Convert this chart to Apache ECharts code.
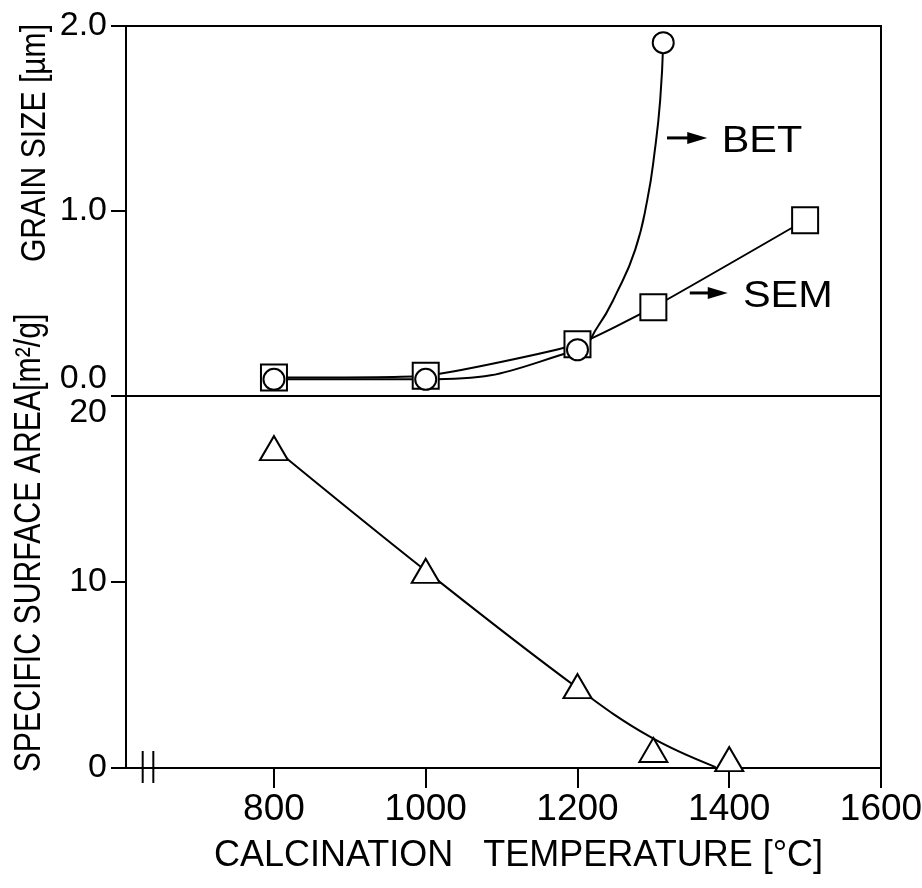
<!DOCTYPE html>
<html>
<head>
<meta charset="utf-8">
<script src="https://cdn.jsdelivr.net/npm/echarts@6/dist/echarts.min.js"></script>
<style>
  html, body { margin: 0; padding: 0; background: #fff; }
  #chart { width: 922px; height: 888px; }
</style>
</head>
<body>
<div id="chart"></div>
<script>
// ---------- data ----------
const xTickLabels = [800, 1000, 1200, 1400, 1600];
const grainTicks = [0.0, 1.0, 2.0];
const surfaceTicks = [0, 10, 20];

// SEM grain size (squares)
const semTemp = [800, 1000, 1200, 1300, 1500];
const semSize = [0.10, 0.11, 0.28, 0.48, 0.95];

// BET grain size (circles)
const betTemp = [800, 1000, 1200, 1313];
const betSize = [0.09, 0.09, 0.25, 1.91];

// BET fitted curve
const betCurveTemp = [800, 1000, 1200, 1226, 1252, 1276, 1292, 1302, 1309, 1313];
const betCurveSize = [0.09, 0.09, 0.25, 0.37, 0.56, 0.79, 1.06, 1.33, 1.60, 1.91];

// specific surface area (triangles)
const ssaTemp = [800, 1000, 1200, 1300, 1400];
const ssaArea = [17.2, 10.6, 4.4, 0.97, 0.48];

// surface-area fitted curve
const ssaCurveTemp = [800, 1000, 1200, 1296, 1382];
const ssaCurveArea = [17.2, 10.6, 4.3, 1.67, 0.05];

// annotation anchors (data coordinates of the top panel)
const annotations = [
  { text: 'BET', arrowFrom: [1318, 1.395], arrowTo: [1371, 1.395], textAt: [1390, 1.37] },
  { text: 'SEM', arrowFrom: [1348, 0.557], arrowTo: [1398, 0.557], textAt: [1418, 0.535] }
];
const axisBreak = [627, 641];

// ---------- chart ----------
const zip = (a, b) => a.map((v, i) => [v, b[i]]);
const FONT = "'Liberation Sans', Arial, Helvetica, sans-serif";
const BLACK = '#000';

const chart = echarts.init(document.getElementById('chart'), null, { renderer: 'canvas' });

const yLabel = {
  color: BLACK, fontFamily: FONT, fontSize: 34, margin: 19
};

const gridBase = { left: 126, right: 41, show: true, borderColor: BLACK, borderWidth: 2,
  backgroundColor: 'transparent', containLabel: false, outerBoundsMode: 'none' };

const option = {
  animation: false,
  backgroundColor: '#fff',
  grid: [
    Object.assign({}, gridBase, { top: 26, height: 370 }),
    Object.assign({}, gridBase, { top: 396, height: 372 })
  ],
  xAxis: [
    { gridIndex: 0, type: 'value', min: 605, max: 1600,
      axisLine: { show: false }, axisTick: { show: false }, axisLabel: { show: false }, splitLine: { show: false } },
    { gridIndex: 1, type: 'value', min: 605, max: 1600,
      axisLine: { show: true, lineStyle: { color: BLACK, width: 2 } },
      axisTick: { show: true, length: 20, customValues: xTickLabels, lineStyle: { color: BLACK, width: 2 } },
      axisLabel: { show: true, customValues: xTickLabels, formatter: v => String(v),
        color: BLACK, fontFamily: FONT, fontSize: 37, margin: 23 },
      splitLine: { show: false },
      name: 'CALCINATION   TEMPERATURE [°C]',
      nameLocation: 'middle', nameGap: 70,
      nameTextStyle: { color: BLACK, fontFamily: FONT, fontSize: 36, padding: [0, 0, 0, 30] }
    }
  ],
  yAxis: [
    { gridIndex: 0, type: 'value', min: 0, max: 2,
      axisLine: { show: true, lineStyle: { color: BLACK, width: 2 } },
      axisTick: { show: true, length: 15, customValues: grainTicks, lineStyle: { color: BLACK, width: 2 } },
      axisLabel: Object.assign({}, yLabel, { customValues: grainTicks, formatter: v => Number(v).toFixed(1), verticalAlignMinLabel: 'bottom' }),
      splitLine: { show: false } },
    { gridIndex: 1, type: 'value', min: 0, max: 20,
      axisLine: { show: true, lineStyle: { color: BLACK, width: 2 } },
      axisTick: { show: true, length: 15, customValues: surfaceTicks, lineStyle: { color: BLACK, width: 2 } },
      axisLabel: Object.assign({}, yLabel, { customValues: surfaceTicks, formatter: v => String(v), verticalAlignMaxLabel: 'top' }),
      splitLine: { show: false } }
  ],
  series: [
    { name: 'SEM line', type: 'line', xAxisIndex: 0, yAxisIndex: 0, data: zip(semTemp, semSize),
      showSymbol: false, smooth: 0.15, z: 2,
      lineStyle: { color: BLACK, width: 2 } },
    { name: 'BET line', type: 'line', xAxisIndex: 0, yAxisIndex: 0, data: zip(betCurveTemp, betCurveSize),
      showSymbol: false, smooth: 0.5, z: 2,
      lineStyle: { color: BLACK, width: 2 } },
    { name: 'Surface area line', type: 'line', xAxisIndex: 1, yAxisIndex: 1, data: zip(ssaCurveTemp, ssaCurveArea),
      showSymbol: false, smooth: 0.4, z: 2,
      lineStyle: { color: BLACK, width: 2 } },
    { name: 'SEM', type: 'scatter', xAxisIndex: 0, yAxisIndex: 0, data: zip(semTemp, semSize),
      symbol: 'rect', symbolSize: 26, z: 3,
      itemStyle: { color: '#fff', borderColor: BLACK, borderWidth: 2, opacity: 1 } },
    { name: 'BET', type: 'scatter', xAxisIndex: 0, yAxisIndex: 0, data: zip(betTemp, betSize),
      symbol: 'circle', symbolSize: 21, z: 4,
      itemStyle: { color: '#fff', borderColor: BLACK, borderWidth: 2, opacity: 1 } },
    { name: 'Specific surface area', type: 'scatter', xAxisIndex: 1, yAxisIndex: 1, data: zip(ssaTemp, ssaArea),
      symbol: 'triangle', symbolSize: [28, 24], z: 3,
      itemStyle: { color: '#fff', borderColor: BLACK, borderWidth: 2, opacity: 1 } }
  ]
};

chart.setOption(option);

// ---------- decorations anchored to data coordinates ----------
function px(gridIndex, p) { return chart.convertToPixel({ gridIndex: gridIndex }, p); }

const graphics = [];

// axis break marks
axisBreak.forEach(v => {
  const p = px(1, [v, 0]);
  graphics.push({ type: 'line', z: 10, shape: { x1: p[0], y1: p[1] - 17, x2: p[0], y2: p[1] + 15 },
    style: { stroke: BLACK, lineWidth: 2 } });
});

// arrows and BET / SEM labels
annotations.forEach(a => {
  const p1 = px(0, a.arrowFrom), p2 = px(0, a.arrowTo), pt = px(0, a.textAt);
  const head = 20, half = 6;
  graphics.push({ type: 'line', z: 10, shape: { x1: p1[0], y1: p1[1], x2: p2[0] - head + 2, y2: p2[1] },
    style: { stroke: BLACK, lineWidth: 3 } });
  graphics.push({ type: 'polygon', z: 10, shape: { points: [[p2[0], p2[1]], [p2[0] - head, p2[1] - half], [p2[0] - head, p2[1] + half]] },
    style: { fill: BLACK } });
  graphics.push({ type: 'text', z: 10, x: pt[0], y: pt[1], scaleX: 1.15,
    style: { text: a.text, fill: BLACK, font: '36px ' + FONT, align: 'left', verticalAlign: 'middle' } });
});

// rotated y-axis titles
graphics.push({ type: 'text', z: 10, x: 35, y: 143, rotation: Math.PI / 2, scaleX: 0.86,
  style: { text: 'GRAIN SIZE [µm]', fill: BLACK, font: '35px ' + FONT, align: 'center', verticalAlign: 'middle' } });
graphics.push({ type: 'text', z: 10, x: 30, y: 543, rotation: Math.PI / 2, scaleX: 0.84,
  style: { text: 'SPECIFIC SURFACE AREA[m²/g]', fill: BLACK, font: '36px ' + FONT, align: 'center', verticalAlign: 'middle' } });

chart.setOption({ graphic: { elements: graphics } });
</script>
</body>
</html>
